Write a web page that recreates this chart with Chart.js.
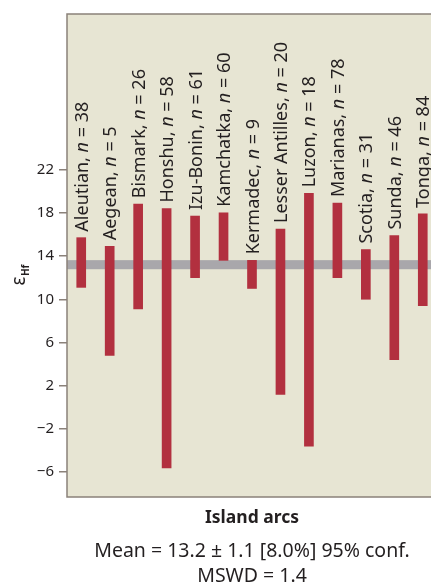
<!DOCTYPE html>
<html>
<head>
<meta charset="utf-8">
<script src="https://cdn.jsdelivr.net/npm/chart.js@4.4.0/dist/chart.umd.min.js"></script>
<style>
  html, body { margin: 0; padding: 0; background: #ffffff; overflow: hidden; }
  #wrap { position: relative; width: 437px; height: 584px; }
</style>
</head>
<body>
<div id="wrap"><canvas id="arcChart"></canvas></div>
<script>
// island arc groups and their eHf ranges
const arcNames = ['Aleutian', 'Aegean', 'Bismark', 'Honshu', 'Izu-Bonin', 'Kamchatka', 'Kermadec',
    'Lesser Antilles', 'Luzon', 'Marianas', 'Scotia', 'Sunda', 'Tonga'];
const arcCounts = [38, 5, 26, 58, 61, 60, 9, 20, 18, 78, 31, 46, 84];
const rangeLow = [11.1, 4.8, 9.1, -5.6, 12.0, 13.6, 11.0, 1.2, -3.6, 12.0, 10.0, 4.4, 9.4];
const rangeHigh = [15.7, 14.9, 18.8, 18.4, 17.7, 18.0, 13.6, 16.5, 19.8, 18.9, 14.6, 15.9, 17.9];

// y axis
const yTicks = [-6, -2, 2, 6, 10, 14, 18, 22];
const yMin = -8.3;
const yMax = 36.4;

// weighted mean band
const meanValue = 13.2;
const meanBandHalf = 0.42;

const xTitle = 'Island arcs';
const footerLines = ['Mean = 13.2 \u00b1 1.1 [8.0%] 95% conf.', 'MSWD = 1.4'];

const FONT = '"Noto Sans", "Open Sans", sans-serif';
const textColor = '#231f20';
const frameColor = '#8a8179';

// background, frame and mean band (behind the bars)
const plotBackground = {
    id: 'plotBackground',
    beforeDatasetsDraw(chart) {
        const { ctx, chartArea, scales } = chart;
        ctx.save();
        ctx.fillStyle = '#e7e5d3';
        ctx.fillRect(chartArea.left, chartArea.top, chartArea.right - chartArea.left, chartArea.bottom - chartArea.top);

        const yTop = scales.y.getPixelForValue(meanValue + meanBandHalf);
        const yBot = scales.y.getPixelForValue(meanValue - meanBandHalf);
        ctx.fillStyle = '#a9a7ab';
        ctx.fillRect(chartArea.left, yTop, chartArea.right - chartArea.left, yBot - yTop);

        ctx.strokeStyle = frameColor;
        ctx.lineWidth = 1.5;
        ctx.strokeRect(chartArea.left, chartArea.top, chartArea.right - chartArea.left + 10, chartArea.bottom - chartArea.top);
        ctx.restore();
    }
};

// rotated labels above each bar, with italic n
const barLabels = {
    id: 'barLabels',
    afterDatasetsDraw(chart) {
        const { ctx } = chart;
        const meta = chart.getDatasetMeta(0);
        ctx.save();
        ctx.fillStyle = textColor;
        ctx.textBaseline = 'alphabetic';
        ctx.textAlign = 'left';
        meta.data.forEach((bar, i) => {
            const parts = [
                { t: arcNames[i] + ', ', f: '18px ' + FONT },
                { t: 'n', f: 'italic 18px ' + FONT },
                { t: ' = ' + arcCounts[i], f: '18px ' + FONT }
            ];
            ctx.save();
            ctx.translate(bar.x, Math.min(bar.y, bar.base) - 6);
            ctx.rotate(-Math.PI / 2);
            let pos = 0;
            parts.forEach(p => {
                ctx.font = p.f;
                ctx.fillText(p.t, pos, 6.5);
                pos += ctx.measureText(p.t).width;
            });
            ctx.restore();
        });
        ctx.restore();
    }
};

// y title (epsilon with subscript Hf) and the footer text
const extraText = {
    id: 'extraText',
    afterDraw(chart) {
        const { ctx, chartArea } = chart;
        ctx.save();
        ctx.fillStyle = textColor;

        // y axis title
        ctx.save();
        ctx.translate(25, (chartArea.top + chartArea.bottom) / 2 + 30);
        ctx.rotate(-Math.PI / 2);
        ctx.textAlign = 'left';
        ctx.textBaseline = 'alphabetic';
        ctx.font = '19px ' + FONT;
        ctx.fillText('\u03b5', 0, 0);
        const w = ctx.measureText('\u03b5').width;
        ctx.font = 'bold 10px ' + FONT;
        ctx.fillText('Hf', w + 0.5, 4);
        ctx.restore();

        // footer
        const cx = (chartArea.left + chartArea.right) / 2;
        ctx.textAlign = 'center';
        ctx.textBaseline = 'alphabetic';
        ctx.font = 'bold 17.5px ' + FONT;
        ctx.fillText(xTitle, cx, chartArea.bottom + 26);
        ctx.font = '19.5px ' + FONT;
        ctx.fillText(footerLines[0], cx, chartArea.bottom + 60);
        ctx.fillText(footerLines[1], cx, chartArea.bottom + 85);
        ctx.restore();
    }
};

const ctx = document.getElementById('arcChart').getContext('2d');
new Chart(ctx, {
    type: 'bar',
    data: {
        labels: arcNames,
        datasets: [{
            data: arcNames.map((n, i) => [rangeLow[i], rangeHigh[i]]),
            backgroundColor: '#b2303f',
            borderWidth: 0,
            barThickness: 9
        }]
    },
    options: {
        responsive: true,
        maintainAspectRatio: false,
        animation: false,
        layout: { padding: { top: 12, right: 0, bottom: 0, left: 0 } },
        plugins: {
            legend: { display: false },
            tooltip: { enabled: false }
        },
        scales: {
            x: {
                type: 'category',
                offset: true,
                grid: { display: false, drawTicks: false },
                border: { display: false },
                ticks: { display: false },
                afterFit(scale) { scale.height = 87; }
            },
            y: {
                min: yMin,
                max: yMax,
                afterBuildTicks(scale) {
                    scale.ticks = yTicks.map(v => ({ value: v }));
                },
                afterFit(scale) { scale.width = 67; },
                grid: {
                    drawOnChartArea: false,
                    drawTicks: true,
                    tickLength: 8,
                    color: frameColor,
                    lineWidth: 1.5
                },
                border: { display: false },
                ticks: {
                    color: textColor,
                    font: { family: FONT, size: 15 },
                    padding: 5,
                    callback: v => String(v).replace('-', '\u2212')
                }
            }
        }
    },
    plugins: [plotBackground, barLabels, extraText]
});
</script>
</body>
</html>
